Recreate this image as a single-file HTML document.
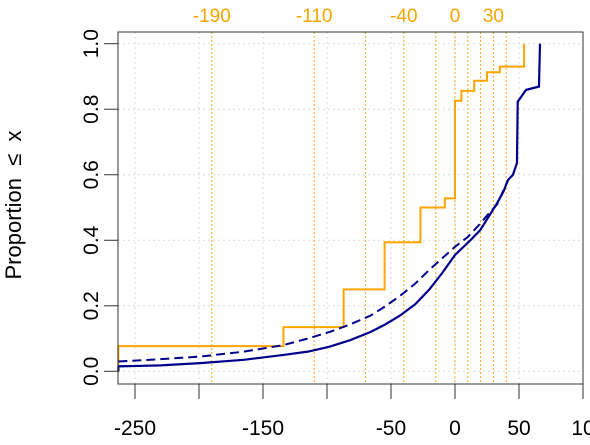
<!DOCTYPE html>
<html><head><meta charset="utf-8"><style>
html,body{margin:0;padding:0;background:#fff;}
svg{display:block;font-family:"Liberation Sans",sans-serif;}
</style></head><body>
<svg id="chart" width="590" height="445" viewBox="0 0 590 445"></svg>
<script>
const xTicks=[-250,-200,-150,-100,-50,0,50,100];
const xTickLabels=["-250","","-150","","-50","0","50","10"];
const yTicks=[0,0.2,0.4,0.6,0.8,1.0];
const yTickLabels=["0.0","0.2","0.4","0.6","0.8","1.0"];
const refLines=[-190,-110,-70,-40,-15,0,10,20,30,40];
const refLabels=["-190","-110","","-40","","0","","","30",""];
const orangeX=[-263,-134,-87,-55,-27,-8,0,5,15,25,35,54];
const orangeP=[0.077,0.135,0.25,0.394,0.5,0.528,0.826,0.856,0.887,0.913,0.93,1.0];
const solidX=[-263,-230,-199,-165,-134,-115,-98,-82,-66,-55,-43,-31,-20,-10,0,12,19.5,26,33,38,41.4,45.3,48.4,49,55.5,65.6,66.4];
const solidP=[0.015,0.018,0.025,0.035,0.05,0.06,0.075,0.095,0.12,0.142,0.17,0.205,0.25,0.3,0.355,0.4,0.43,0.47,0.514,0.55,0.584,0.6,0.636,0.823,0.859,0.869,1.0];
const dashX=[-263,-230,-199,-165,-134,-115,-98,-82,-66,-55,-43,-31,-20,-10,0,10,19.5,26,33,41.4];
const dashP=[0.03,0.037,0.045,0.06,0.08,0.1,0.12,0.143,0.17,0.197,0.23,0.268,0.31,0.345,0.38,0.41,0.45,0.48,0.51,0.584];

const NS="http://www.w3.org/2000/svg";
const svg=document.getElementById('chart');
const L=118,R=583,T=32,B=384;
function sx(v){return 455+v*1.28;}
function sy(p){return 371.3-p*327.6;}
function mk(tag,attrs,parent){const e=document.createElementNS(NS,tag);for(const k in attrs)e.setAttribute(k,attrs[k]);(parent||svg).appendChild(e);return e;}

xTicks.forEach((v,i)=>{
  const g=mk('line',{x1:sx(v),x2:sx(v),y1:T,y2:B,stroke:'#d9d9d9','stroke-dasharray':'2,3','stroke-width':1});
  
  
});
yTicks.forEach((v,i)=>{
  const g=mk('line',{x1:L,x2:R,y1:sy(v),y2:sy(v),stroke:'#d9d9d9','stroke-dasharray':'2,3','stroke-width':1});
  
  
});
refLines.forEach((v,i)=>{
  const l=mk('line',{x1:sx(v),x2:sx(v),y1:T,y2:B,stroke:'#f5a623','stroke-dasharray':'2,2','stroke-width':1});
  
  
  if(refLabels[i]){
    const t=mk('text',{x:sx(v),y:22,'text-anchor':'middle','font-size':19,fill:'#f5a500'});
    t.textContent=refLabels[i];
    
    
  }
});
let d=`M${L},${sy(0)} L${sx(orangeX[0])},${sy(0)}`;
for(let i=0;i<orangeX.length;i++){
  d+=` L${sx(orangeX[i])},${sy(orangeP[i])}`;
  if(i+1<orangeX.length) d+=` L${sx(orangeX[i+1])},${sy(orangeP[i])}`;
}
const op=mk('path',{d:d,fill:'none',stroke:'#ffa500','stroke-width':2});


let dd='';
dashX.forEach((v,i)=>{dd+=(i?' L':'M')+sx(v)+','+sy(dashP[i]);});
const dp=mk('path',{d:dd,fill:'none',stroke:'#00008b','stroke-width':2,'stroke-dasharray':'9,5'});


let sd=`M${sx(solidX[0])},${sy(0)}`;
solidX.forEach((v,i)=>{sd+=' L'+sx(v)+','+sy(solidP[i]);});
const sp=mk('path',{d:sd,fill:'none',stroke:'#00008b','stroke-width':2.2});


const box=mk('rect',{x:L,y:T,width:R-L,height:B-T,fill:'none',stroke:'#333','stroke-width':1});


xTicks.forEach((v,i)=>{
  const t=mk('line',{x1:sx(v),x2:sx(v),y1:B,y2:B+15,stroke:'#333'});
  
  
  if(xTickLabels[i]){
    const tx=mk('text',{x:sx(v),y:435,'text-anchor':'middle','font-size':21,fill:'#000'});
    tx.textContent=xTickLabels[i];
    
    
  }
});
yTicks.forEach((v,i)=>{
  const t=mk('line',{x1:104,x2:L,y1:sy(v),y2:sy(v),stroke:'#333'});
  
  
  const tx=mk('text',{x:0,y:0,'text-anchor':'middle','font-size':21,fill:'#000',transform:`translate(98,${sy(v)}) rotate(-90)`});
  tx.textContent=yTickLabels[i];
  
  
});
const yt=mk('text',{x:0,y:0,'text-anchor':'middle','font-size':22,fill:'#000','xml:space':'preserve',transform:'translate(21,205) rotate(-90)'});
yt.textContent='Proportion \u00a0\u2264\u00a0 x';


</script>
</body></html>
